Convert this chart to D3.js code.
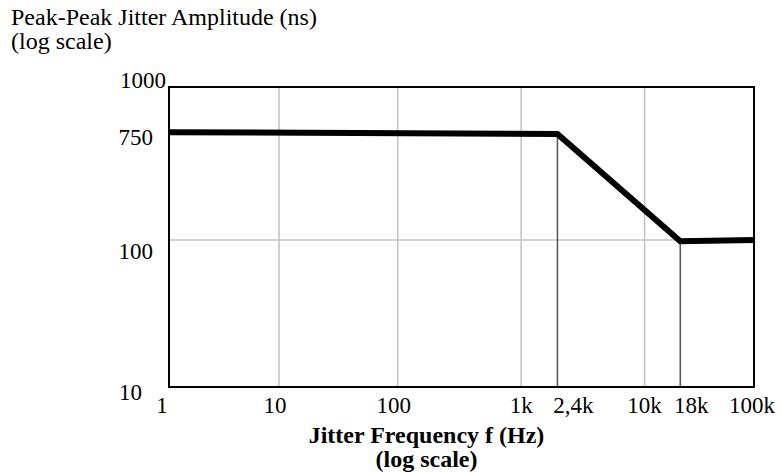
<!DOCTYPE html>
<html>
<head>
<meta charset="utf-8">
<script src="https://cdn.jsdelivr.net/npm/d3@7"></script>
<style>
  html, body { margin: 0; padding: 0; background: #fff; }
  svg { display: block; }
</style>
</head>
<body>
<svg id="chart" width="781" height="473"></svg>
<script>
// ---------- data ----------
const xTickValues = [1, 10, 100, 1000, 2400, 10000, 18000, 100000];
const xTickLabels = ["1", "10", "100", "1k", "2,4k", "10k", "18k", "100k"];
const yTickValues = [10, 100, 750, 1000];
const yTickLabels = ["10", "100", "750", "1000"];
const lightGridX = [10, 100, 1000, 10000];
const markerX = [2400, 18000];
const lightGridY = [100];
const jitterFreq = [1, 2400, 18000, 100000];
const jitterAmp = [752, 730, 98, 100];

const yTitleLines = ["Peak-Peak Jitter Amplitude (ns)", "(log scale)"];
const xTitleLines = ["Jitter Frequency f (Hz)", "(log scale)"];

// ---------- layout ----------
const FONT = "'Liberation Serif', Tinos, 'Times New Roman', Times, 'DejaVu Serif', serif";
const W = 781, H = 473;
const m = { left: 169, top: 87, right: 27, bottom: 86 };
const pw = W - m.left - m.right;   // 585
const ph = H - m.top - m.bottom;   // 300
// schematic (non-uniform) decade spacing of the reference, as fractions of the plot
const xFrac = [0, 0.188, 0.391, 0.602, 0.664, 0.813, 0.874, 1];
const yFrac = [0, 0.49, 0.848, 1];
const xLabelDx = [-7, -4, -4, 0, 16, 0, 11, -2];
const yLabelPos = { "10": [-27, 13], "100": [-16, 19], "750": [-16, 12.5], "1000": [-3, 1] };

const x = d3.scaleLog().domain(xTickValues).range(xFrac.map(f => f * pw));
const y = d3.scaleLog().domain(yTickValues).range(yFrac.map(f => ph - f * ph));

const svg = d3.select("#chart");
const g = svg.append("g").attr("transform", `translate(${m.left},${m.top})`);

// light grid
g.selectAll("line.gx").data(lightGridX).enter().append("line")
  .attr("x1", d => x(d)).attr("x2", d => x(d))
  .attr("y1", 0).attr("y2", ph)
  .attr("stroke", "#c4c4c4").attr("stroke-width", 1.6);
g.selectAll("line.gy").data(lightGridY).enter().append("line")
  .attr("x1", 0).attr("x2", pw)
  .attr("y1", d => y(d)).attr("y2", d => y(d))
  .attr("stroke", "#c4c4c4").attr("stroke-width", 1.6);

// dark marker lines from curve down to axis
const ampAt = f => jitterAmp[jitterFreq.indexOf(f)];
g.selectAll("line.mk").data(markerX).enter().append("line")
  .attr("x1", d => x(d)).attr("x2", d => x(d))
  .attr("y1", d => y(ampAt(d))).attr("y2", ph)
  .attr("stroke", "#5a5a5a").attr("stroke-width", 1.6);

// frame
g.append("rect").attr("x", 0).attr("y", 0).attr("width", pw).attr("height", ph)
  .attr("fill", "none").attr("stroke", "#000").attr("stroke-width", 2);

// curve
const pts = jitterFreq.map((f, i) => [f, jitterAmp[i]]);
const line = d3.line().x(d => x(d[0])).y(d => y(d[1]));
g.append("path").datum(pts).attr("d", line)
  .attr("fill", "none").attr("stroke", "#000").attr("stroke-width", 6)
  .attr("stroke-linejoin", "miter").attr("stroke-linecap", "butt");

// x tick labels
g.selectAll("text.xl").data(xTickValues).enter().append("text")
  .attr("x", (d, i) => x(d) + xLabelDx[i]).attr("y", 413 - m.top)
  .attr("text-anchor", "middle").attr("font-size", 23).attr("font-family", FONT)
  .text((d, i) => xTickLabels[i]);

// y tick labels
g.selectAll("text.yl").data(yTickValues).enter().append("text")
  .attr("x", (d, i) => yLabelPos[yTickLabels[i]][0])
  .attr("y", (d, i) => y(d) + yLabelPos[yTickLabels[i]][1])
  .attr("text-anchor", "end").attr("font-size", 23).attr("font-family", FONT)
  .text((d, i) => yTickLabels[i]);

// y title (top-left)
svg.selectAll("text.yt").data(yTitleLines).enter().append("text")
  .attr("x", 11).attr("y", (d, i) => 25 + i * 24)
  .attr("font-size", 24).attr("font-family", FONT).text(d => d);

// x title
svg.selectAll("text.xt").data(xTitleLines).enter().append("text")
  .attr("x", 426.5).attr("y", (d, i) => 443 + i * 24)
  .attr("text-anchor", "middle").attr("font-size", 24).attr("font-weight", "bold")
  .attr("font-family", FONT)
  .text(d => d);
</script>
</body>
</html>
